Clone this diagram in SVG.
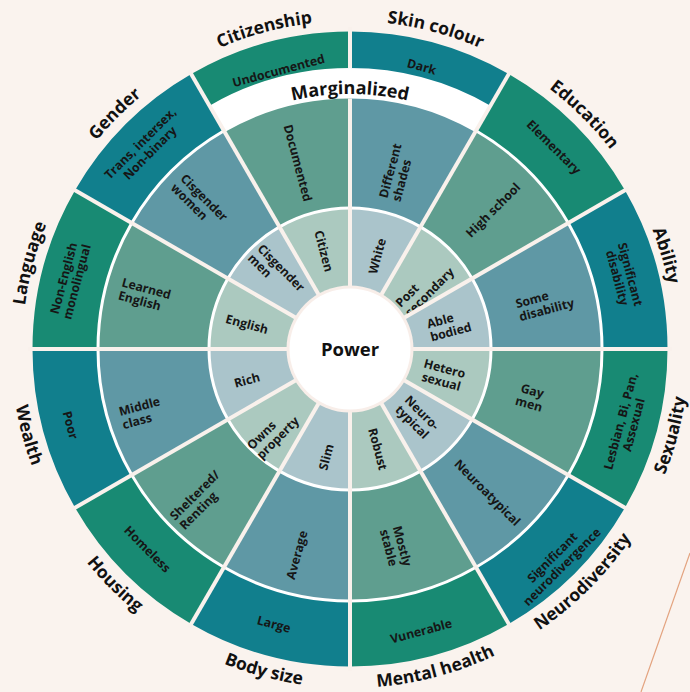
<svg xmlns="http://www.w3.org/2000/svg" xmlns:xlink="http://www.w3.org/1999/xlink" width="690" height="692" viewBox="0 0 690 692">
<style>
.ob{fill:#117f8d}.og{fill:#188a73}.mb{fill:#5f98a5}.mg{fill:#5f9e8f}.ib{fill:#aac4cb}.ig{fill:#abc9bf}
.lbl{font-family:"Open Sans","Liberation Sans",sans-serif;font-weight:700;font-size:12.3px;fill:#161616}
.c{text-anchor:middle}.s{text-anchor:start}
.cat{font-family:"Open Sans","Liberation Sans",sans-serif;font-weight:700;font-size:17.5px;fill:#111;text-anchor:middle}
</style>
<defs>
<path id="segI" d="M0,-139.5A139.5,139.5 0 0 1 69.75,-120.81L31,-53.69A62,62 0 0 0 0,-62Z"/>
<path id="segM" d="M0,-250.5A250.5,250.5 0 0 1 125.25,-216.94L71.25,-123.41A142.5,142.5 0 0 0 0,-142.5Z"/>
<path id="segO" d="M0,-317.5A317.5,317.5 0 0 1 158.75,-274.96L126.75,-219.54A253.5,253.5 0 0 0 0,-253.5Z"/>
<path id="segOT" d="M0,-317.5A317.5,317.5 0 0 1 158.75,-274.96L140.5,-243.35A281,281 0 0 0 0,-281Z"/>
<path id="arcT" d="M-210.83,-251.26A328,328 0 0 1 210.83,-251.26"/>
<path id="arcT2" d="M-208.90,-248.96A325,325 0 0 1 208.90,-248.96"/>
<path id="arcB" d="M-217.91,259.69A339,339 0 0 0 217.91,259.69"/>
<path id="arcM" d="M-163.91,-195.34A255,255 0 0 1 163.91,-195.34"/>
</defs>
<rect width="690" height="692" fill="#faf3ee"/>
<line x1="690" y1="553" x2="641" y2="692" stroke="#e3a37f" stroke-width="1.2"/>
<circle cx="350" cy="349" r="300" fill="#fff"/>

<g id="skin-colour">
<g transform="translate(350 349) rotate(0)"><use href="#segOT" class="ob"/><use href="#segM" class="mb"/><use href="#segI" class="ib"/></g>
<text class="cat" transform="translate(350 349) rotate(15)"><textPath href="#arcT" startOffset="50%">Skin colour</textPath></text>
<text class="lbl c" transform="translate(421.7 66.5) rotate(15)" y="4.5">Dark</text>
<text class="lbl s" transform="translate(396.7 172.3) rotate(-75)"><tspan x="-28" y="-2.25">Different</tspan><tspan x="-28" y="11.25">shades</tspan></text>
<text class="lbl c" transform="translate(377 256) rotate(-75)" y="4.5">White</text>
</g>

<g id="education">
<g transform="translate(350 349) rotate(30)"><use href="#segO" class="og"/><use href="#segM" class="mg"/><use href="#segI" class="ig"/></g>
<text class="cat" transform="translate(350 349) rotate(45)"><textPath href="#arcT" startOffset="50%">Education</textPath></text>
<text class="lbl c" transform="translate(554 147) rotate(45)" y="4.5">Elementary</text>
<text class="lbl c" transform="translate(493 210) rotate(-45)" y="4.5">High school</text>
<text class="lbl s" transform="translate(425 287) rotate(-45)"><tspan x="-32" y="-2.25">Post</tspan><tspan x="-32" y="11.25">secondary</tspan></text>
</g>

<g id="ability">
<g transform="translate(350 349) rotate(60)"><use href="#segO" class="ob"/><use href="#segM" class="mb"/><use href="#segI" class="ib"/></g>
<text class="cat" transform="translate(350 349) rotate(73.5)"><textPath href="#arcT2" startOffset="50%">Ability</textPath></text>
<text class="lbl c" transform="translate(624 276) rotate(75)"><tspan x="0" y="-2.25">Significant</tspan><tspan x="0" y="11.25">disability</tspan></text>
<text class="lbl s" transform="translate(545 303) rotate(-15)"><tspan x="-28.5" y="-2.25">Some</tspan><tspan x="-28.5" y="11.25">disability</tspan></text>
<text class="lbl s" transform="translate(450 325) rotate(-15)"><tspan x="-22" y="-2.25">Able</tspan><tspan x="-22" y="11.25">bodied</tspan></text>
</g>

<g id="sexuality">
<g transform="translate(350 349) rotate(90)"><use href="#segO" class="og"/><use href="#segM" class="mg"/><use href="#segI" class="ig"/></g>
<text class="cat" transform="translate(350 349) rotate(-75)"><textPath href="#arcB" startOffset="50%">Sexuality</textPath></text>
<text class="lbl c" transform="translate(627 423) rotate(-75)"><tspan x="0" y="-2.25">Lesbian, Bi, Pan,</tspan><tspan x="0" y="11.25">Assexual</tspan></text>
<text class="lbl c" transform="translate(530.7 397.3) rotate(15)"><tspan x="0" y="-2.25">Gay</tspan><tspan x="0" y="11.25">men</tspan></text>
<text class="lbl c" transform="translate(443 375) rotate(15)"><tspan x="0" y="-2.25">Hetero</tspan><tspan x="0" y="11.25">sexual</tspan></text>
</g>

<g id="neurodiversity">
<g transform="translate(350 349) rotate(120)"><use href="#segO" class="ob"/><use href="#segM" class="mb"/><use href="#segI" class="ib"/></g>
<text class="cat" transform="translate(350 349) rotate(-45)"><textPath href="#arcB" startOffset="50%">Neurodiversity</textPath></text>
<text class="lbl c" transform="translate(557 562) rotate(-45)"><tspan x="0" y="-2.25">Significant</tspan><tspan x="0" y="11.25">neurodivergence</tspan></text>
<text class="lbl c" transform="translate(487.5 492.5) rotate(45)" y="4.5">Neuroatypical</text>
<text class="lbl s" transform="translate(418 418) rotate(45)"><tspan x="-22" y="-2.25">Neuro-</tspan><tspan x="-22" y="11.25">typical</tspan></text>
</g>

<g id="mental-health">
<g transform="translate(350 349) rotate(150)"><use href="#segO" class="og"/><use href="#segM" class="mg"/><use href="#segI" class="ig"/></g>
<text class="cat" transform="translate(350 349) rotate(-15)"><textPath href="#arcB" startOffset="50%">Mental health</textPath></text>
<text class="lbl c" transform="translate(421 631) rotate(-15)" y="4.5">Vunerable</text>
<text class="lbl s" transform="translate(396 548) rotate(75)"><tspan x="-21" y="-2.25">Mostly</tspan><tspan x="-21" y="11.25">stable</tspan></text>
<text class="lbl c" transform="translate(378 449) rotate(75)" y="4.5">Robust</text>
</g>

<g id="body-size">
<g transform="translate(350 349) rotate(180)"><use href="#segO" class="ob"/><use href="#segM" class="mb"/><use href="#segI" class="ib"/></g>
<text class="cat" transform="translate(350 349) rotate(15)"><textPath href="#arcB" startOffset="50%">Body size</textPath></text>
<text class="lbl c" transform="translate(274 624) rotate(15)" y="4.5">Large</text>
<text class="lbl c" transform="translate(296.7 555) rotate(-75)" y="4.5">Average</text>
<text class="lbl c" transform="translate(326 457) rotate(-75)" y="4.5">Slim</text>
</g>

<g id="housing">
<g transform="translate(350 349) rotate(210)"><use href="#segO" class="og"/><use href="#segM" class="mg"/><use href="#segI" class="ig"/></g>
<text class="cat" transform="translate(350 349) rotate(45)"><textPath href="#arcB" startOffset="50%">Housing</textPath></text>
<text class="lbl c" transform="translate(147.5 549) rotate(45)" y="4.5">Homeless</text>
<text class="lbl s" transform="translate(199.3 500) rotate(-45)"><tspan x="-32" y="-2.25">Sheltered/</tspan><tspan x="-32" y="11.25">Renting</tspan></text>
<text class="lbl s" transform="translate(273 433) rotate(-45)"><tspan x="-27" y="-2.25">Owns</tspan><tspan x="-27" y="11.25">property</tspan></text>
</g>

<g id="wealth">
<g transform="translate(350 349) rotate(240)"><use href="#segO" class="ob"/><use href="#segM" class="mb"/><use href="#segI" class="ib"/></g>
<text class="cat" transform="translate(350 349) rotate(75)"><textPath href="#arcB" startOffset="50%">Wealth</textPath></text>
<text class="lbl c" transform="translate(70.5 425) rotate(75)" y="4.5">Poor</text>
<text class="lbl s" transform="translate(141.7 412.7) rotate(-15)"><tspan x="-21.5" y="-2.25">Middle</tspan><tspan x="-21.5" y="11.25">class</tspan></text>
<text class="lbl c" transform="translate(247 380) rotate(-15)" y="4.5">Rich</text>
</g>

<g id="language">
<g transform="translate(350 349) rotate(270)"><use href="#segO" class="og"/><use href="#segM" class="mg"/><use href="#segI" class="ig"/></g>
<text class="cat" transform="translate(350 349) rotate(-75)"><textPath href="#arcT" startOffset="50%">Language</textPath></text>
<text class="lbl c" transform="translate(70 280) rotate(-75)"><tspan x="0" y="-2.25">Non-English</tspan><tspan x="0" y="11.25">monolingual</tspan></text>
<text class="lbl s" transform="translate(145 295) rotate(15)"><tspan x="-25.5" y="-2.25">Learned</tspan><tspan x="-25.5" y="11.25">English</tspan></text>
<text class="lbl c" transform="translate(247 324) rotate(15)" y="4.5">English</text>
</g>

<g id="gender">
<g transform="translate(350 349) rotate(300)"><use href="#segO" class="ob"/><use href="#segM" class="mb"/><use href="#segI" class="ib"/></g>
<text class="cat" transform="translate(350 349) rotate(-45)"><textPath href="#arcT" startOffset="50%">Gender</textPath></text>
<text class="lbl c" transform="translate(145 148) rotate(-45)"><tspan x="0" y="-2.25">Trans, intersex,</tspan><tspan x="0" y="11.25">Non-binary</tspan></text>
<text class="lbl s" transform="translate(200 202.7) rotate(45)"><tspan x="-31" y="-2.25">Cisgender</tspan><tspan x="-31" y="11.25">women</tspan></text>
<text class="lbl s" transform="translate(277 273) rotate(45)"><tspan x="-31" y="-2.25">Cisgender</tspan><tspan x="-31" y="11.25">men</tspan></text>
</g>

<g id="citizenship">
<g transform="translate(350 349) rotate(330)"><use href="#segOT" class="og"/><use href="#segM" class="mg"/><use href="#segI" class="ig"/></g>
<text class="cat" transform="translate(350 349) rotate(-15)"><textPath href="#arcT" startOffset="50%">Citizenship</textPath></text>
<text class="lbl c" transform="translate(278.5 70.5) rotate(-15)" y="4.5">Undocumented</text>
<text class="lbl c" transform="translate(298 163) rotate(75)" y="4.5">Documented</text>
<text class="lbl c" transform="translate(324 251) rotate(75)" y="4.5">Citizen</text>
</g>

<g id="dividers" stroke="#f9f1ec" stroke-width="4" transform="translate(350 349)">
<line x1="0" y1="-58" x2="0" y2="-250.5"/>
<line x1="0" y1="-281" x2="0" y2="-322"/>
<line x1="0" y1="-58" x2="0" y2="-322" transform="rotate(30)"/>
<line x1="0" y1="-58" x2="0" y2="-322" transform="rotate(60)"/>
<line x1="0" y1="-58" x2="0" y2="-322" transform="rotate(90)"/>
<line x1="0" y1="-58" x2="0" y2="-322" transform="rotate(120)"/>
<line x1="0" y1="-58" x2="0" y2="-322" transform="rotate(150)"/>
<line x1="0" y1="-58" x2="0" y2="-322" transform="rotate(180)"/>
<line x1="0" y1="-58" x2="0" y2="-322" transform="rotate(210)"/>
<line x1="0" y1="-58" x2="0" y2="-322" transform="rotate(240)"/>
<line x1="0" y1="-58" x2="0" y2="-322" transform="rotate(270)"/>
<line x1="0" y1="-58" x2="0" y2="-322" transform="rotate(300)"/>
<line x1="0" y1="-58" x2="0" y2="-322" transform="rotate(330)"/>
</g>

<g id="marginalized">
<text class="cat" style="font-size:18px" transform="translate(350 349)"><textPath href="#arcM" startOffset="50%">Marginalized</textPath></text>
</g>

<g id="power">
<circle cx="350" cy="349" r="63.5" fill="#f8eee9"/>
<circle cx="350" cy="349" r="60.5" fill="#fff"/>
<text class="cat" style="font-size:18.5px" x="350" y="355.5">Power</text>
</g>
</svg>
